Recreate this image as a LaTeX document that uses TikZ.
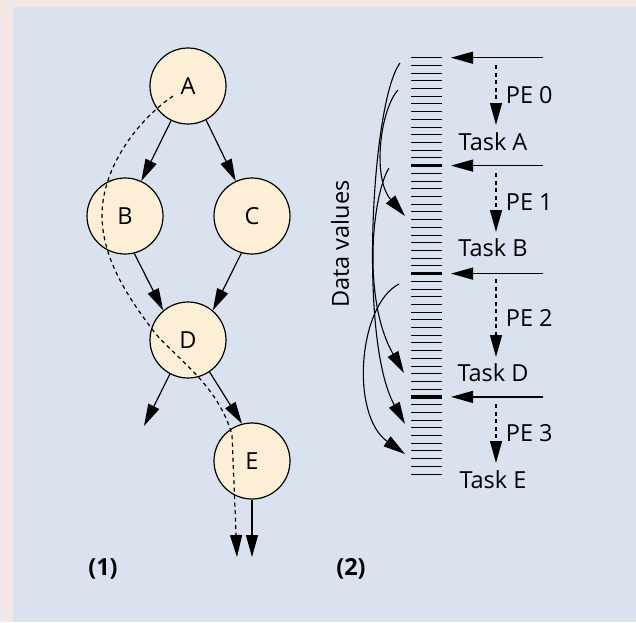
\documentclass[tikz,border=0pt]{standalone}
\usepackage{fontspec}
\setmainfont{Open Sans}
\usetikzlibrary{arrows.meta}
\definecolor{panelblue}{HTML}{DAE2EF}
\definecolor{edgepink}{HTML}{F2E7E5}
\definecolor{taskcream}{HTML}{FDEFD5}

\begin{document}
\begin{tikzpicture}[x=1pt, y=-1pt, >={Triangle[length=22pt,width=12pt]}, line width=1.2pt,
        every node/.style={font=\fontsize{23.5}{28}\selectfont},
        task/.style={draw, fill=taskcream, circle, minimum size=76pt, inner sep=0pt},
        dep/.style={->, line width=1.1pt},
        flow/.style={->, dash pattern=on 4pt off 3.5pt},
        slot/.style={line width=1pt},
        bigslot/.style={line width=3.2pt}]
        % background
        \useasboundingbox (0,0) rectangle (636,622);
        \fill[edgepink] (0,0) rectangle (636,622);
        \fill[panelblue] (13,7) rectangle (636,622);

        % (1) task graph
        \node[task] (A) at (188,86) {A};
        \node[task] (B) at (125,216) {B};
        \node[task] (C) at (252,216) {C};
        \node[task] (D) at (188,340) {D};
        \node[task] (E) at (252,461) {E};
        \coordinate (dOut) at (144,426);
        \coordinate (eOut) at (252,557);
        \draw[->] (A.-116) -- (B.65);
        \draw[->] (A.-62) -- (C.115);
        \draw[->] (B.-76) -- (D.130);
        \draw[->] (C.-106) -- (D.50);
        \draw[->] (D.-56) -- (E.105);
        \draw[->] (D.-118) -- (dOut);
        \draw[->] (E.south) -- (eOut);

        % critical path
        \coordinate (pStart) at (173,96);
        \coordinate (pEnd) at (237,557);
        \draw[flow] (pStart) .. controls (135,122) and (102,170) .. (102,215)
            .. controls (102,260) and (130,300) .. (155,333)
            .. controls (178,360) and (218,385) .. (232,435) -- (pEnd);

        \node[font=\fontsize{23.5}{28}\selectfont\bfseries] (lab1) at (103,569) {(1)};

        % (2) data values
        \foreach \i in {0,...,54} {
            \ifnum\i=14 \def\sty{bigslot}\else\ifnum\i=28 \def\sty{bigslot}\else\ifnum\i=44 \def\sty{bigslot}\else\def\sty{slot}\fi\fi\fi
            \draw[\sty] (411,57.7+7.71*\i) -- (442,57.7+7.71*\i);
        }
        \node[rotate=90] (data) at (340,244) {Data values};

        % processing elements
        \foreach \y/\top/\bot/\pe/\tsk/\ty [count=\k from 0] in
            {57.7/65/125/0/A/142, 165.6/173/232/1/B/248, 273.6/279/357/2/D/373, 396.9/404/463/3/E/480} {
            \coordinate (in\k) at (543,\y);
            \coordinate (at\k) at (451,\y);
            \draw[->] (in\k) -- (at\k);
            \coordinate (pe\k) at (496,\top);
            \node (task\k) at (493,\ty) {Task \tsk};
            \draw[flow] (pe\k) -- (496,\bot) node[midway, right=6pt] (pelab\k) {PE \pe};
        }

        % dependencies
        \coordinate (w1) at (400,63);
        \coordinate (w2) at (398,90);
        \coordinate (w3) at (389,168);
        \coordinate (w4) at (399,284);
        \coordinate (r1) at (405,216);
        \coordinate (r2) at (404,373);
        \coordinate (r3) at (405,424);
        \coordinate (r4) at (405,454);
        \draw[dep] (w1) .. controls (372,100) and (358,340) .. (r3);
        \draw[dep] (w2) .. controls (380,110) and (372,178) .. (r1);
        \draw[dep] (w3) .. controls (372,195) and (362,300) .. (r2);
        \draw[dep] (w4) .. controls (358,305) and (350,415) .. (r4);

        \node[font=\fontsize{23.5}{28}\selectfont\bfseries] (lab2) at (351,569) {(2)};
    \end{tikzpicture}
\end{document}
